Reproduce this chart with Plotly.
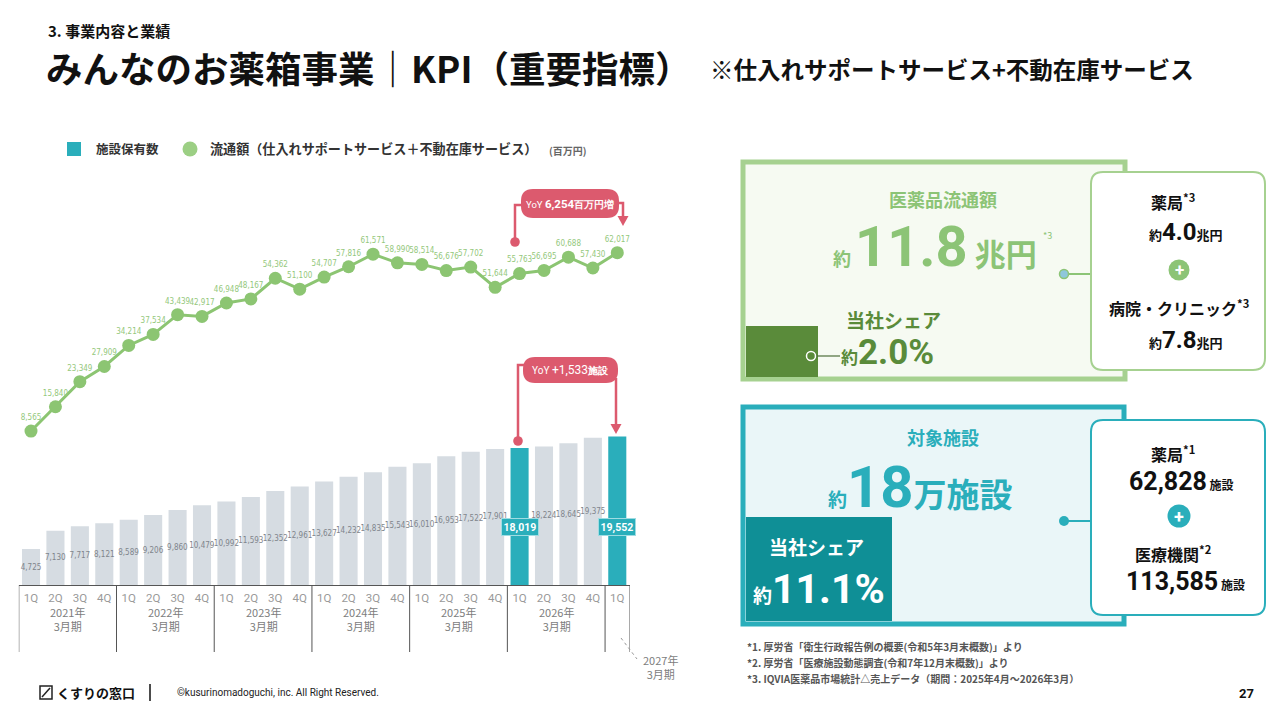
import plotly.graph_objects as go

# ---------------- data ----------------
quarters = ["1Q", "2Q", "3Q", "4Q"] * 6 + ["1Q"]
fiscal_years = ["2021年<br>3月期", "2022年<br>3月期", "2023年<br>3月期",
                "2024年<br>3月期", "2025年<br>3月期", "2026年<br>3月期"]
facilities = [4725, 7130, 7717, 8121, 8589, 9206, 9860, 10479, 10992, 11593,
              12352, 12961, 13627, 14232, 14835, 15543, 16010, 16953, 17522,
              17901, 18019, 18224, 18645, 19375, 19552]
gmv = [8565, 15840, 23349, 27909, 34214, 37534, 43439, 42917, 46948, 48167,
       54362, 51100, 54707, 57816, 61571, 58990, 58514, 56676, 57702, 51644,
       55763, 56695, 60688, 57430, 62017]
highlight = [20, 24]

W, H = 1280, 720
JP = "Noto Sans CJK JP"
NUM = "Roboto"
NARROW = "Liberation Sans Narrow, DejaVu Sans Condensed, Roboto"
GRAY_BAR = "#d6dce2"
TEAL = "#2aaebb"
GREEN = "#8cc572"
GREEN_D = "#5a8b3a"
PINK = "#dc5a6e"


def X(px):
    return px / W


def Y(py):
    return 1 - py / H


idx = list(range(len(facilities)))
bar_colors = [TEAL if i in highlight else GRAY_BAR for i in idx]
bar_text = ["" if i in highlight else f"{v:,}" for i, v in enumerate(facilities)]

fig = go.Figure()
fig.add_trace(go.Bar(
    x=idx, y=facilities, marker=dict(color=bar_colors, line=dict(width=0)),
    width=0.74, text=bar_text, textposition="inside", insidetextanchor="middle",
    textangle=0, constraintext="none",
    textfont=dict(size=8, color="#7f858c", family=NARROW),
    hoverinfo="skip", showlegend=False))
fig.add_trace(go.Scatter(
    x=idx, y=gmv, yaxis="y2", mode="lines+markers+text",
    line=dict(color=GREEN, width=3), marker=dict(size=13, color=GREEN),
    text=[f"{v:,}" for v in gmv], textposition="top center",
    textfont=dict(size=8, color="#94c87c", family=NARROW),
    hoverinfo="skip", showlegend=False, cliponaxis=False))

shapes = []
ann = []


def txt(x, y, s, size, color, bold=False, xanchor="center", yanchor="middle", family=JP):
    ann.append(dict(x=X(x), y=Y(y), xref="paper", yref="paper", text=s, showarrow=False,
                    xanchor=xanchor, yanchor=yanchor,
                    font=dict(size=size, color=color, family=family, weight=700 if bold else 400)))


def rect(x0, y0, x1, y1, fill, line=None, lw=0):
    shapes.append(dict(type="rect", xref="paper", yref="paper", x0=X(x0), x1=X(x1),
                       y0=Y(y1), y1=Y(y0), fillcolor=fill,
                       line=dict(color=line or fill, width=lw), layer="below"))


def rrect(x0, y0, x1, y1, r, fill, line=None, lw=0, layer="above"):
    def p(a, b):
        return f"{X(a):.5f},{Y(b):.5f}"
    path = (f"M{p(x0 + r, y0)} L{p(x1 - r, y0)} Q{p(x1, y0)} {p(x1, y0 + r)} "
            f"L{p(x1, y1 - r)} Q{p(x1, y1)} {p(x1 - r, y1)} L{p(x0 + r, y1)} "
            f"Q{p(x0, y1)} {p(x0, y1 - r)} L{p(x0, y0 + r)} Q{p(x0, y0)} {p(x0 + r, y0)} Z")
    shapes.append(dict(type="path", xref="paper", yref="paper", path=path, fillcolor=fill,
                       line=dict(color=line or fill, width=lw), layer=layer))


def seg(pts, color, w=1, dash="solid"):
    path = "M" + " L".join(f"{X(a):.5f},{Y(b):.5f}" for a, b in pts)
    shapes.append(dict(type="path", xref="paper", yref="paper", path=path,
                       line=dict(color=color, width=w, dash=dash)))


def tri(pts, color):
    path = "M" + " L".join(f"{X(a):.5f},{Y(b):.5f}" for a, b in pts) + " Z"
    shapes.append(dict(type="path", xref="paper", yref="paper", path=path,
                       fillcolor=color, line=dict(color=color, width=0)))


def circ(cx, cy, r, fill, line=None, lw=0):
    shapes.append(dict(type="circle", xref="paper", yref="paper", x0=X(cx - r), x1=X(cx + r),
                       y0=Y(cy + r), y1=Y(cy - r), fillcolor=fill,
                       line=dict(color=line or fill, width=lw)))


# ---------------- titles ----------------
txt(46, 31, "3. 事業内容と業績", 15, "#111", True, "left")
txt(44, 67, "みんなのお薬箱事業｜KPI（重要指標）", 36.5, "#111", True, "left")
txt(708, 69, "※仕入れサポートサービス+不動在庫サービス", 23.5, "#111", True, "left")

# ---------------- legend ----------------
rect(67, 142, 81, 156, TEAL)
txt(94, 149, "施設保有数", 12.5, "#333", True, "left")
circ(190, 149, 7.5, "#9ccf84")
txt(208, 149, "流通額（仕入れサポートサービス＋不動在庫サービス）", 13.1, "#333", True, "left")
txt(547, 150, "(百万円)", 10, "#666", True, "left")

# ---------------- x-axis table ----------------
for k in range(0, 25, 4):
    shapes.append(dict(type="line", xref="x", yref="paper", x0=k - 0.5, x1=k - 0.5,
                       y0=Y(652), y1=Y(585), line=dict(color="#555", width=1)))
shapes.append(dict(type="line", xref="x", yref="paper", x0=24.5, x1=24.5,
                   y0=Y(652), y1=Y(585), line=dict(color="#555", width=1)))
for g, lab in enumerate(fiscal_years):
    ann.append(dict(x=g * 4 + 1.5, y=Y(619), xref="x", yref="paper", text=lab, showarrow=False,
                    xanchor="center", yanchor="middle",
                    font=dict(size=11, color="#7d7d7d", family=JP), align="center"))
seg([(621, 638), (637, 659)], "#999", 1, "dot")
txt(660, 667, "2027年<br>3月期", 11, "#7d7d7d", False)

# ---------------- callouts ----------------
# GMV callout
rrect(521, 189, 619, 218, 12, PINK)
txt(570, 203.5, "<span style='font-size:9.5px'>YoY </span><b>6,254</b><b><span style='font-size:9.5px'>百万円増</span></b>",
    11.5, "white", False, family=NUM)
seg([(522, 205), (515, 205), (515, 242)], PINK, 2.5)
circ(515, 242, 4.8, PINK)
seg([(618, 203), (623, 203), (623, 218)], PINK, 2.5)
tri([(617.5, 216), (628.5, 216), (623, 226)], PINK)
# facilities callout
rrect(523, 357, 618, 383, 12, PINK)
txt(570, 370, "<span style='font-size:10px'>YoY </span>+1,533<b><span style='font-size:10px'>施設</span></b>",
    12, "white", False, family=NUM)
seg([(524, 365), (518, 365), (518, 441)], PINK, 2.5)
circ(518, 441, 4.8, PINK)
seg([(616, 378), (616, 425)], PINK, 2.5)
tri([(610.5, 424), (621.5, 424), (616, 434)], PINK)

for i in highlight:
    ann.append(dict(x=i, y=Y(527), xref="x", yref="paper", text=f"<b>{facilities[i]:,}</b>",
                    showarrow=False, bgcolor=TEAL, bordercolor="#9fdce2", borderwidth=1,
                    borderpad=1.5, xanchor="center", yanchor="middle",
                    font=dict(size=10.5, color="white", family=NUM)))

# ---------------- right panel 1 ----------------
rect(743, 162, 1125, 379, "#f6faf2", "#a6d190", 5)
rect(746, 326, 818, 377, GREEN_D)
txt(943, 199, "医薬品流通額", 18, "#8cc476", True)
txt(935, 247, "<span style='font-size:18px'>約 </span><span style='font-size:56px;font-family:Roboto'>11.8</span><span style='font-size:31px'> 兆円</span>",
    18, "#8cc476", True)
txt(1047, 236, "*3", 9, "#8cc476", False)
txt(893, 319, "当社シェア", 19, GREEN_D, True)
txt(839, 352, "<span style='font-size:17px'>約</span><span style='font-size:35px;font-family:Roboto'>2.0%</span>",
    17, GREEN_D, True, "left")
seg([(815, 356), (840, 356)], "#4d6e3a", 1.2)
circ(811, 356, 4.5, GREEN_D, "white", 1.5)
seg([(1066, 274), (1091, 274)], "#8cc476", 2)
circ(1064, 274, 4.5, "#8fc7db", "#8cc476", 1.5)
rrect(1091, 172, 1265, 370, 12, "white", "#a6d190", 2)
txt(1173, 201, "薬局<sup>*3</sup>", 16, "#111", True)
txt(1186, 232, "<span style='font-size:13px'>約</span><span style='font-size:24px;font-family:Roboto'>4.0</span><span style='font-size:13px'>兆円</span>",
    13, "#111", True)
circ(1179, 270, 10.5, "#8cc476")
txt(1179, 270, "+", 17, "white", True, family=NUM)
txt(1179, 307, "病院・クリニック<sup>*3</sup>", 16, "#111", True)
txt(1186, 340, "<span style='font-size:13px'>約</span><span style='font-size:24px;font-family:Roboto'>7.8</span><span style='font-size:13px'>兆円</span>",
    13, "#111", True)

# ---------------- right panel 2 ----------------
rect(743, 407, 1124, 624, "#eaf6f8", TEAL, 5)
rect(746, 517, 892, 621, "#0f8f96")
txt(943, 437, "対象施設", 18, TEAL, True)
txt(920, 487, "<span style='font-size:19px'>約</span><span style='font-size:58px;font-family:Roboto'>18</span><span style='font-size:33px'>万施設</span>",
    19, TEAL, True)
txt(816, 546, "当社シェア", 19, "white", True)
txt(751, 589, "<span style='font-size:19px'>約</span><span style='font-size:41px;font-family:Roboto'>11.1%</span>",
    19, "white", True, "left")
seg([(1066, 521), (1091, 521)], TEAL, 2)
circ(1064, 521, 5, TEAL)
rrect(1091, 420, 1265, 615, 12, "white", TEAL, 2)
txt(1173, 453, "薬局<sup>*1</sup>", 16, "#111", True)
txt(1181, 482, "<span style='font-size:25px;font-family:Roboto'>62,828</span><span style='font-size:12px'> 施設</span>",
    12, "#111", True)
circ(1179, 516, 11.5, TEAL)
txt(1179, 516, "+", 18, "white", True, family=NUM)
txt(1173, 553, "医療機関<sup>*2</sup>", 16, "#111", True)
txt(1185, 581, "<span style='font-size:25px;font-family:Roboto'>113,585</span><span style='font-size:12px'> 施設</span>",
    12, "#111", True)

# footnotes
txt(745, 646, "*1. 厚労省「衛生行政報告例の概要(令和5年3月末概数)」より", 10, "#555", True, "left")
txt(745, 662, "*2. 厚労省「医療施設動態調査(令和7年12月末概数)」より", 10, "#555", True, "left")
txt(745, 678, "*3. IQVIA医薬品市場統計△売上データ（期間：2025年4月～2026年3月）", 10, "#555", True, "left")

# ---------------- footer ----------------
rect(40, 686, 52, 699, "white", "#222", 1.5)
seg([(42, 697), (50, 688)], "#222", 1.5)
txt(55, 692, "くすりの窓口", 13, "#111", True, "left")
seg([(150, 684), (150, 701)], "#111", 1.5)
txt(175, 692, "©kusurinomadoguchi, inc. All Right Reserved.", 10, "#222", False, "left", family=NUM)
txt(1246, 693, "27", 13, "#111", True, family=NUM)

# ---------------- axes ----------------
x_dom = [18.8 / W, 629.5 / W]
y_dom = [Y(585), Y(150)]
fig.update_layout(
    width=W, height=H, margin=dict(l=0, r=0, t=0, b=0),
    paper_bgcolor="white", plot_bgcolor="rgba(0,0,0,0)",
    font=dict(family=JP),
    bargap=0.26,
    xaxis=dict(domain=x_dom, range=[-0.5, 24.5], tickmode="array", tickvals=idx,
               ticktext=quarters, showgrid=False, zeroline=False, showline=True,
               linecolor="#555", linewidth=1, ticks="", ticklabelstandoff=2,
               tickfont=dict(size=11.5, color="#9a9a9a", family=NUM), fixedrange=True),
    yaxis=dict(domain=y_dom, range=[0, 435 / 0.0076], visible=False, fixedrange=True),
    yaxis2=dict(domain=y_dom, range=[-(585 - 459.6) / 0.003336, (459.6 - 150) / 0.003336],
                overlaying="y", visible=False, fixedrange=True),
    shapes=shapes, annotations=ann,
)

fig.write_html("out.html", config={"displayModeBar": False},
               post_script="document.body.style.margin='0';")
